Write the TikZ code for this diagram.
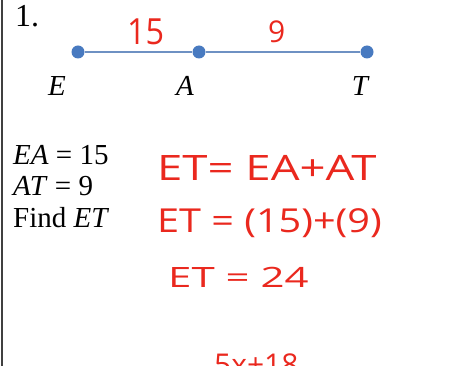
\documentclass[tikz,border=0pt]{standalone}
\usepackage{fontspec}
\setmainfont{Liberation Serif}
\newfontfamily\hand{Open Sans}
\definecolor{inkred}{RGB}{234,40,30}
\definecolor{dotblue}{RGB}{72,122,192}
\definecolor{segblue}{RGB}{110,145,195}
\tikzset{
  pt/.style={circle,fill=dotblue,inner sep=0pt,minimum size=13pt},
  lbl/.style={font=\fontsize{29}{29}\selectfont\itshape,anchor=base,inner sep=0pt},
  given/.style={font=\fontsize{29}{29}\selectfont,anchor=base west,inner sep=0pt},
  handw/.style={text=inkred,anchor=base west,inner sep=0pt},
}
\begin{document}
\begin{tikzpicture}[x=1pt,y=-1pt]
\useasboundingbox (0,0) rectangle (469,366);
\clip (0,0) rectangle (469,366);
\fill[white] (0,0) rectangle (469,366);
\draw[line width=2pt,black!75] (2,0) -- (2,366);
\node[given,font=\fontsize{32}{32}\selectfont] (num) at (15,27) {1.};
\node[pt] (E) at (78,52) {};
\node[pt] (A) at (199,52) {};
\node[pt] (T) at (367,52) {};
\draw[segblue,line width=1.8pt] (E) -- (A) -- (T);
\node[lbl] (lE) at (57,96) {E};
\node[lbl] (lA) at (185,96) {A};
\node[lbl] (lT) at (360,96) {T};
\node[handw,font=\hand\fontsize{36}{36}\selectfont] (n15) at (127,45) {\scalebox{0.9}[1]{15}};
\node[handw,font=\hand\fontsize{30}{30}\selectfont] (n9) at (268,43) {9};
\node[given] (g1) at (13,165) {\textit{EA} = 15};
\node[given] (g2) at (13,196) {\textit{AT} = 9};
\node[given] (g3) at (13,228) {Find \textit{ET}};
\node[handw,font=\hand\fontsize{35}{35}\selectfont] (h1) at (157,181) {\scalebox{1.3}[1]{ET= EA+AT}};
\node[handw,font=\hand\fontsize{33}{33}\selectfont] (h2) at (157,233) {\scalebox{1.2}[1]{ET = (15)+(9)}};
\node[handw,font=\hand\fontsize{28}{28}\selectfont] (h3) at (168,288) {\scalebox{1.5}[1]{ET = 24}};
\node[handw,font=\hand\fontsize{30}{30}\selectfont] (h4) at (214,376) {5x+18};
\end{tikzpicture}
\end{document}
